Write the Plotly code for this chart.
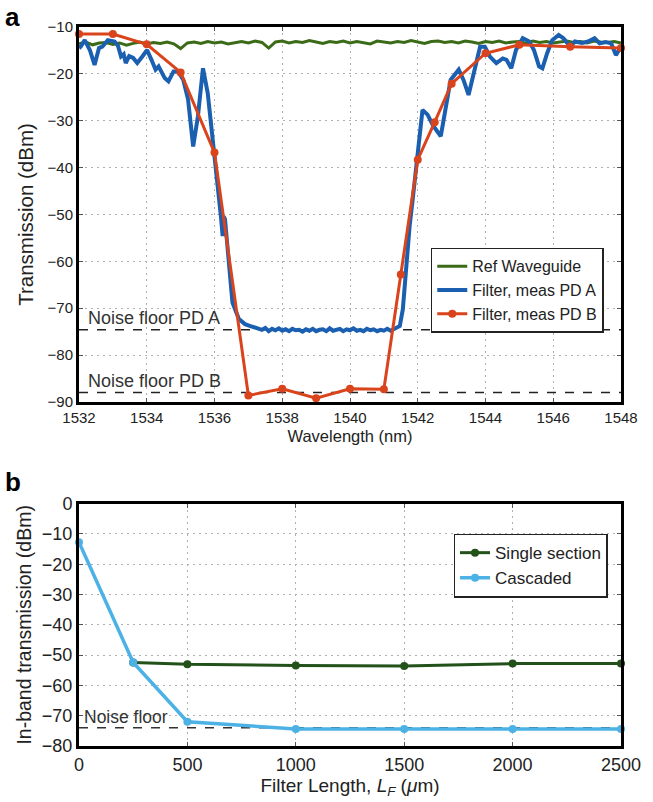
import plotly.graph_objects as go

# ---------------- Panel a data ----------------
ref_wl = [1532.0 + 0.2 * i for i in range(81)]
ref_val = [-13.6, -13.2, -13.8, -13.4, -13.3, -13.7, -13.4, -13.9, -13.5, -13.2,
           -13.6, -13.3, -13.5, -13.2, -13.6, -14.6, -13.4, -13.2, -13.5, -13.1,
           -13.4, -13.2, -13.6, -13.3, -13.1, -13.4, -13.0, -13.3, -14.5, -13.2,
           -13.0, -13.4, -13.1, -13.3, -12.9, -13.2, -13.5, -13.1, -13.3, -13.0,
           -13.4, -13.1, -13.3, -13.6, -13.0, -13.2, -13.4, -13.1, -13.3, -12.9,
           -13.2, -13.5, -13.1, -13.0, -13.3, -13.1, -13.4, -13.0, -13.2, -13.5,
           -13.1, -13.3, -13.0, -13.4, -13.2, -13.1, -13.5, -13.0, -13.3, -13.1,
           -13.4, -13.2, -13.0, -13.3, -13.1, -13.4, -13.0, -13.2, -13.3, -13.1,
           -13.4]

pda_wl = [1532.00, 1532.05, 1532.17, 1532.32, 1532.46, 1532.59, 1532.69, 1532.85,
          1533.05, 1533.15, 1533.24, 1533.32, 1533.38, 1533.48, 1533.60, 1533.72,
          1533.87, 1534.01, 1534.14, 1534.26, 1534.35, 1534.53, 1534.64, 1534.79,
          1534.93, 1535.08, 1535.22, 1535.37, 1535.51, 1535.66, 1535.80, 1535.95,
          1536.05, 1536.14, 1536.19, 1536.24, 1536.27, 1536.31, 1536.38, 1536.53,
          1536.72, 1536.90, 1537.06, 1537.30,
          1537.4, 1537.5, 1537.6, 1537.7, 1537.8, 1537.9, 1538.0, 1538.1, 1538.2,
          1538.3, 1538.4, 1538.5, 1538.6, 1538.7, 1538.8, 1538.9, 1539.0, 1539.1,
          1539.2, 1539.3, 1539.4, 1539.5, 1539.6, 1539.7, 1539.8, 1539.9, 1540.0,
          1540.1, 1540.2, 1540.3, 1540.4, 1540.5, 1540.6, 1540.7, 1540.8, 1540.9,
          1541.0, 1541.1, 1541.2,
          1541.35, 1541.47, 1541.56, 1541.66, 1541.76, 1541.85, 1541.95, 1542.14,
          1542.29, 1542.45, 1542.68, 1542.82, 1542.97, 1543.21, 1543.35, 1543.50,
          1543.64, 1543.84, 1543.98, 1544.13, 1544.32, 1544.51, 1544.62, 1544.76,
          1544.90, 1545.10, 1545.29, 1545.43, 1545.58, 1545.68, 1545.82, 1545.97,
          1546.16, 1546.30, 1546.50, 1546.64, 1546.85, 1547.03, 1547.22, 1547.37,
          1547.55, 1547.71, 1547.85, 1548.00]
pda_val = [-14.5, -14.2, -12.8, -14.9, -18.1, -14.5, -14.2, -12.8,
           -13.1, -14.0, -16.3, -15.8, -17.7, -16.2, -16.6, -17.7,
           -16.3, -14.9, -17.0, -19.1, -18.4, -20.9, -21.6, -19.5,
           -19.5, -21.3, -25.5, -35.5, -29.1, -18.8, -24.1, -34.0,
           -39.7, -46.8, -50.5, -54.6, -50.4, -51.0, -57.4, -68.8,
           -72.3, -73.4, -73.8, -74.3,
           -74.6, -74.2, -74.9, -74.4, -74.7, -74.3, -74.8, -74.5, -74.9,
           -74.4, -74.7, -74.6, -75.0, -74.5, -74.8, -74.4, -74.9, -74.6,
           -74.5, -74.9, -74.3, -74.8, -74.6, -74.4, -74.9, -74.5, -74.7,
           -74.3, -74.8, -74.6, -74.9, -74.4, -74.7, -74.5, -74.9, -74.6,
           -74.8, -74.4, -74.8,
           -74.3, -73.8, -70.2, -61.0, -52.5, -46.8, -39.7, -27.7,
           -28.7, -31.0, -33.3, -27.0, -21.3, -19.1, -21.3, -24.5,
           -19.9, -14.2, -14.2, -16.3, -17.7, -16.7, -17.0, -18.8,
           -14.9, -12.4, -13.1, -14.9, -18.4, -18.8, -15.6, -12.8,
           -11.7, -12.4, -14.2, -13.1, -13.4, -13.1, -12.4, -13.5,
           -13.2, -13.5, -16.0, -14.2]

pdb_wl = [1532, 1533, 1534, 1535, 1536, 1537, 1538, 1539, 1540, 1541,
          1541.5, 1542, 1542.5, 1543, 1544, 1545, 1546.5, 1548]
pdb_val = [-11.5, -11.5, -13.7, -19.7, -36.8, -88.6, -87.2, -89.2, -87.2, -87.3,
           -62.8, -38.3, -30.3, -22.1, -15.6, -13.8, -14.2, -14.5]

noise_a = -74.6
noise_b = -88.0

# ---------------- Panel b data ----------------
single_len = [250, 500, 1000, 1500, 2000, 2500]
single_val = [-52.4, -53.0, -53.4, -53.6, -52.8, -52.8]
casc_len = [0, 250, 500, 1000, 1500, 2000, 2500]
casc_val = [-12.7, -52.4, -72.0, -74.4, -74.4, -74.4, -74.4]
noise_floor_b = -74.0

FONT = "Liberation Sans, Arial, sans-serif"
TXT = "#222"
GREEN = "#3b6b17"
BLUE = "#1a5fb0"
RED = "#d9441c"
DKGREEN = "#22511a"
LTBLUE = "#4cb2e6"

fig = go.Figure()

fig.add_trace(go.Scatter(x=[1532, 1548], y=[noise_a, noise_a], mode="lines",
                         line=dict(color="#222", width=1.5, dash="dash"),
                         showlegend=False, hoverinfo="skip", xaxis="x", yaxis="y"))
fig.add_trace(go.Scatter(x=[1532, 1548], y=[noise_b, noise_b], mode="lines",
                         line=dict(color="#222", width=1.5, dash="dash"),
                         showlegend=False, hoverinfo="skip", xaxis="x", yaxis="y"))
fig.add_trace(go.Scatter(x=ref_wl, y=ref_val, mode="lines", name="Ref Waveguide",
                         line=dict(color=GREEN, width=3), xaxis="x", yaxis="y",
                         legend="legend"))
fig.add_trace(go.Scatter(x=pda_wl, y=pda_val, mode="lines", name="Filter, meas PD A",
                         line=dict(color=BLUE, width=4), xaxis="x", yaxis="y",
                         legend="legend"))
fig.add_trace(go.Scatter(x=pdb_wl, y=pdb_val, mode="lines+markers", name="Filter, meas PD B",
                         line=dict(color=RED, width=3), marker=dict(color=RED, size=8),
                         cliponaxis=False, xaxis="x", yaxis="y", legend="legend"))

fig.add_trace(go.Scatter(x=[0, 2500], y=[noise_floor_b, noise_floor_b], mode="lines",
                         line=dict(color="#333", width=1.5, dash="dash"),
                         showlegend=False, hoverinfo="skip", xaxis="x2", yaxis="y2"))
fig.add_trace(go.Scatter(x=single_len, y=single_val, mode="lines+markers", name="Single section",
                         line=dict(color=DKGREEN, width=3), marker=dict(color=DKGREEN, size=8),
                         cliponaxis=False, xaxis="x2", yaxis="y2", legend="legend2"))
fig.add_trace(go.Scatter(x=casc_len, y=casc_val, mode="lines+markers", name="Cascaded",
                         line=dict(color=LTBLUE, width=3.5), marker=dict(color=LTBLUE, size=8),
                         cliponaxis=False, xaxis="x2", yaxis="y2", legend="legend2"))


def axis_style(tick_size, title_size):
    return dict(showline=True, linecolor="black", linewidth=3, mirror="ticks",
                ticks="inside", ticklen=4, tickcolor="#555", tickwidth=1,
                showgrid=True, gridcolor="#b0b0b0", griddash="2px,4px", gridwidth=1,
                zeroline=False, tickfont=dict(family=FONT, size=tick_size, color=TXT),
                title_font=dict(family=FONT, size=title_size, color=TXT))


fig.update_layout(
    width=653, height=802,
    margin=dict(l=79, r=23, t=27, b=54),
    paper_bgcolor="white", plot_bgcolor="white",
    font=dict(family=FONT, color=TXT),
    xaxis=dict(domain=[0, 1], anchor="y", range=[1532, 1548], tickmode="array",
               tickvals=list(range(1532, 1549, 2)),
               title=dict(text="Wavelength (nm)", standoff=6),
               **axis_style(15, 16.5)),
    yaxis=dict(domain=[0.4785, 1], anchor="x", range=[-90, -10], tickmode="array",
               tickvals=list(range(-90, -9, 10)),
               title=dict(text="Transmission (dBm)", standoff=9),
               **axis_style(15, 20.5)),
    xaxis2=dict(domain=[0, 1], anchor="y2", range=[0, 2500], tickmode="array",
                tickvals=list(range(0, 2501, 500)),
                title=dict(text="Filter Length, <i>L</i><sub><i>F</i></sub> (<i>μ</i>m)", standoff=2),
                **axis_style(18, 19)),
    yaxis2=dict(domain=[0, 0.337], anchor="x2", range=[-80, 0], tickmode="array",
                tickvals=list(range(-80, 1, 10)),
                title=dict(text="In-band transmission (dBm)", standoff=6),
                **axis_style(18, 19.5)),
    legend=dict(x=0.649, y=0.693, xanchor="left", yanchor="top",
                bgcolor="white", bordercolor="#222", borderwidth=1.5,
                font=dict(family=FONT, size=16, color=TXT), itemwidth=30,
                tracegroupgap=0),
    legend2=dict(x=0.691, y=0.2954, xanchor="left", yanchor="top",
                 bgcolor="white", bordercolor="#222", borderwidth=1.5,
                 font=dict(family=FONT, size=17, color=TXT), itemwidth=30,
                 tracegroupgap=0),
    annotations=[
        dict(text="<b>a</b>", x=-0.14, y=1.0375, xref="paper", yref="paper",
             xanchor="left", yanchor="top", showarrow=False,
             font=dict(family=FONT, size=26, color="black")),
        dict(text="<b>b</b>", x=-0.14, y=0.3904, xref="paper", yref="paper",
             xanchor="left", yanchor="top", showarrow=False,
             font=dict(family=FONT, size=26, color="black")),
        dict(text="Noise floor PD A", x=1532.2, y=noise_a, xref="x", yref="y",
             xanchor="left", yanchor="bottom", showarrow=False, yshift=0,
             font=dict(family=FONT, size=18, color="#333")),
        dict(text="Noise floor PD B", x=1532.2, y=noise_b, xref="x", yref="y",
             xanchor="left", yanchor="bottom", showarrow=False, yshift=0,
             font=dict(family=FONT, size=18, color="#333")),
        dict(text="Noise floor", x=15, y=noise_floor_b, xref="x2", yref="y2",
             xanchor="left", yanchor="bottom", showarrow=False, yshift=-1,
             font=dict(family=FONT, size=17.5, color="#333")),
    ],
)

fig.write_html("out.html")
